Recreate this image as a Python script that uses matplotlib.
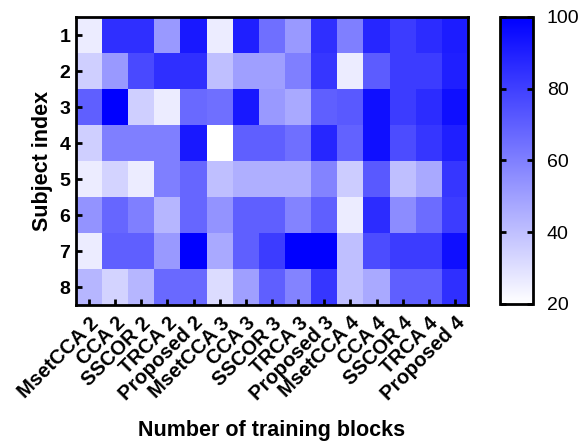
import numpy as np
import matplotlib
matplotlib.use("Agg")
import matplotlib.pyplot as plt
from matplotlib.colors import LinearSegmentedColormap

methods = ["MsetCCA 2", "CCA 2", "SSCOR 2", "TRCA 2", "Proposed 2",
           "MsetCCA 3", "CCA 3", "SSCOR 3", "TRCA 3", "Proposed 3",
           "MsetCCA 4", "CCA 4", "SSCOR 4", "TRCA 4", "Proposed 4"]
subjects = ["1", "2", "3", "4", "5", "6", "7", "8"]

# accuracy (%) per subject (rows) and method / training-block setting (columns)
s1 = [26, 85, 85, 52, 92, 26, 90, 65, 52, 85, 60, 88, 81, 86, 91]
s2 = [35, 52, 77, 85, 85, 40, 50, 50, 60, 83, 26, 71, 81, 81, 90]
s3 = [70, 100, 35, 26, 67, 65, 92, 52, 47, 70, 72, 95, 81, 86, 95]
s4 = [35, 60, 60, 60, 92, 20, 70, 70, 65, 88, 69, 95, 76, 83, 90]
s5 = [26, 34, 26, 60, 68, 40, 45, 45, 45, 59, 36, 72, 40, 47, 83]
s6 = [54, 68, 60, 43, 68, 54, 70, 70, 59, 70, 26, 86, 56, 66, 81]
s7 = [26, 70, 70, 52, 100, 47, 70, 81, 100, 100, 40, 76, 81, 81, 95]
s8 = [43, 34, 43, 67, 67, 31, 50, 70, 59, 83, 40, 47, 70, 70, 85]
acc = np.array([s1, s2, s3, s4, s5, s6, s7, s8], dtype=float)

plt.rcParams["font.family"] = ["Liberation Sans", "DejaVu Sans"]

cmap = LinearSegmentedColormap.from_list("wb", ["#ffffff", "#0000ff"])

fig = plt.figure(figsize=(5.85, 4.42), dpi=100)
W, H = 585, 442
ax = fig.add_axes([76 / W, 1 - 305 / H, (468 - 76) / W, (305 - 17) / H])
cax = fig.add_axes([500 / W, 1 - 304 / H, (533 - 500) / W, (304 - 17) / H])

im = ax.imshow(acc, cmap=cmap, vmin=20, vmax=100, aspect="auto",
               interpolation="nearest")

ax.set_xticks(np.arange(len(methods)))
ax.set_xticklabels(methods, rotation=45, ha="right", va="top",
                   rotation_mode="anchor", fontsize=14.5, fontweight="bold")
ax.set_yticks(np.arange(len(subjects)))
ax.set_yticklabels(subjects, fontsize=14, fontweight="bold")
ax.tick_params(axis="both", direction="in", length=4, width=2, pad=4)
ax.tick_params(axis="x", pad=6)
for sp in ax.spines.values():
    sp.set_linewidth(2)

ax.set_xlabel("Number of training blocks", fontsize=15.5, fontweight="bold",
              labelpad=11)
ax.set_ylabel("Subject index", fontsize=15.5, fontweight="bold", labelpad=5)

cb = fig.colorbar(im, cax=cax, ticks=[20, 40, 60, 80, 100])
cb.outline.set_linewidth(2)
cax.tick_params(direction="in", length=4, width=2, labelsize=14, pad=10,
                left=True, right=True)

fig.savefig("out.png", dpi=100)
